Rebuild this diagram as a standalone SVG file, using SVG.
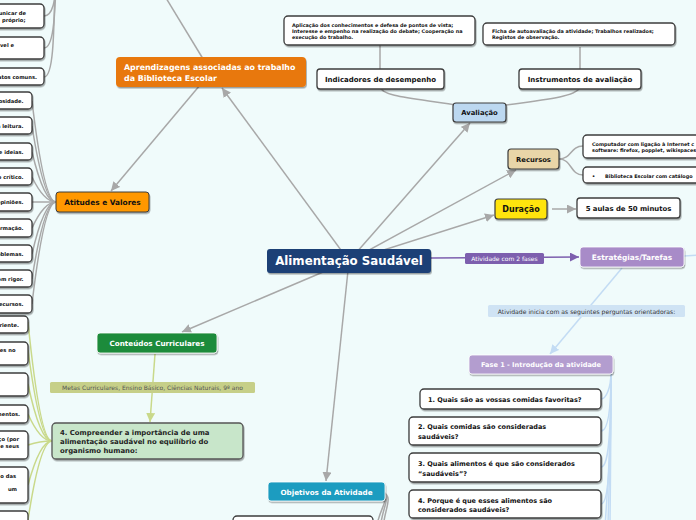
<svg xmlns="http://www.w3.org/2000/svg" width="696" height="520" viewBox="0 0 696 520">
<defs>
<filter id="sh" x="-10%" y="-30%" width="130%" height="180%"><feDropShadow dx="0.8" dy="1.5" stdDeviation="0.7" flood-color="#000" flood-opacity="0.35"/></filter>
<marker id="ag" viewBox="0 0 10 10" refX="10" refY="5" markerWidth="9" markerHeight="9" markerUnits="userSpaceOnUse" orient="auto"><path d="M0,0 L10,5 L0,10 z" fill="#a8a8a8"/></marker>
<marker id="agr" viewBox="0 0 10 10" refX="10" refY="5" markerWidth="9" markerHeight="9" markerUnits="userSpaceOnUse" orient="auto"><path d="M0,0 L10,5 L0,10 z" fill="#c9d98a"/></marker>
<marker id="abl" viewBox="0 0 10 10" refX="10" refY="5" markerWidth="9" markerHeight="9" markerUnits="userSpaceOnUse" orient="auto"><path d="M0,0 L10,5 L0,10 z" fill="#c3dcf4"/></marker>
<marker id="apu" viewBox="0 0 10 10" refX="10" refY="5" markerWidth="9" markerHeight="9" markerUnits="userSpaceOnUse" orient="auto"><path d="M0,0 L10,5 L0,10 z" fill="#7d5fae"/></marker>
</defs>
<style>
text{font-family:"DejaVu Sans",Verdana,sans-serif}
.b{font-weight:bold}
.m{text-anchor:middle}
.e{text-anchor:end}
.w{fill:#fff;stroke:#3c3c3c;stroke-width:1.3}
.cg{fill:none;stroke:#a8a8a8;stroke-width:1.5}
.cgr{fill:none;stroke:#c9d98a;stroke-width:1.5}
.cbl{fill:none;stroke:#c3dcf4;stroke-width:1.5}
.cpu{fill:none;stroke:#7d5fae;stroke-width:1.5}
.sm{font-size:5.2px;font-weight:bold;fill:#111}
.tx{font-size:4.9px;font-weight:bold;fill:#111}
</style>
<rect width="696" height="520" fill="#f0fbfb"/>

<g id="connectors">
<!-- from main -->
<line class="cg" x1="349" y1="261" x2="222" y2="88" marker-end="url(#ag)"/>
<line class="cg" x1="349" y1="261" x2="470" y2="123" marker-end="url(#ag)"/>
<line class="cg" x1="349" y1="261" x2="516" y2="170" marker-end="url(#ag)"/>
<line class="cg" x1="349" y1="261" x2="494" y2="215" marker-end="url(#ag)"/>
<line class="cg" x1="349" y1="261" x2="182" y2="332" marker-end="url(#ag)"/>
<line class="cg" x1="349" y1="261" x2="326" y2="481" marker-end="url(#ag)"/>
<line class="cpu" x1="431" y1="258" x2="579" y2="257" marker-end="url(#apu)"/>
<!-- Aprendizagens -->
<line class="cg" x1="211" y1="72" x2="111" y2="191" marker-end="url(#ag)"/>
<line class="cg" x1="211" y1="72" x2="149" y2="-30"/>
<!-- top-left group -->
<path class="cg" d="M44,16 C53,16 55,0 57,-20"/>
<path class="cg" d="M44,48 C53,48 55,20 56,-20"/>
<path class="cg" d="M44,77 C53,77 54,40 55,-20"/>
<!-- Atitudes children -->
<path class="cg" d="M56,202 Q44,202 32,101"/>
<path class="cg" d="M56,202 Q44,202 32,126"/>
<path class="cg" d="M56,202 Q44,202 32,152"/>
<path class="cg" d="M56,202 Q44,202 32,177"/>
<path class="cg" d="M56,202 L32,202"/>
<path class="cg" d="M56,202 Q44,202 32,228"/>
<path class="cg" d="M56,202 Q44,202 32,254"/>
<path class="cg" d="M56,202 Q44,202 32,279"/>
<path class="cg" d="M56,202 Q44,202 32,304"/>
<!-- Avaliação -->
<path class="cg" d="M380,45 L380,86 C380,98 425,99 462,106"/>
<path class="cg" d="M580,47 L580,86 C580,97 540,100 500,106"/>
<!-- Recursos -->
<path class="cg" d="M559,159 C572,159 570,146 583,146"/>
<path class="cg" d="M559,159 C572,159 570,175 583,175"/>
<!-- Duração -->
<line class="cg" x1="552" y1="209" x2="576" y2="209" marker-end="url(#ag)"/>
<!-- Conteúdos -->
<line class="cgr" x1="155" y1="354" x2="150" y2="422" marker-end="url(#agr)"/>
<!-- node 4 children -->
<path class="cgr" d="M52,441 Q40,441 28,322"/>
<path class="cgr" d="M52,441 Q40,441 28,350"/>
<path class="cgr" d="M52,441 Q40,441 28,384"/>
<path class="cgr" d="M52,441 Q40,441 28,414"/>
<path class="cgr" d="M52,441 Q40,441 28,445"/>
<path class="cgr" d="M52,441 Q40,441 28,485"/>
<path class="cgr" d="M52,441 Q40,441 28,520"/>
<!-- Estratégias -->
<line class="cbl" x1="684" y1="256" x2="700" y2="255"/>
<line class="cbl" x1="622" y1="268" x2="550" y2="354" marker-end="url(#abl)"/>
<!-- Fase 1 children -->
<path class="cbl" d="M611,372 C611,388 606,399 601,399"/>
<path class="cbl" d="M611,372 C611,420 606,431 601,431"/>
<path class="cbl" d="M611,372 C611,455 606,467 601,467"/>
<path class="cbl" d="M611,372 C611,492 606,504 601,504"/>
<path class="cbl" d="M611,372 C611,470 606,500 605,530"/>
<path class="cbl" d="M611,372 C611,470 608,500 608,530"/>
<path class="cbl" d="M611,372 C611,470 610,500 610,530"/>
<!-- Objetivos -->
<path class="cg" d="M383,492 C392,497 382,506 380,530"/>
<path class="cg" d="M383,492 C394,498 384,508 383,530"/>
<path class="cg" d="M383,494 C390,500 379,508 376,530"/>
</g>

<!-- labels on connectors -->
<g id="label-fases"><rect x="465" y="253" width="79" height="11" rx="1.5" fill="#7d5fae"/><text x="504.5" y="261.3" class="m" font-size="6" fill="#fff">Atividade com 2 fases</text></g>
<g id="label-perguntas"><rect x="488" y="305" width="197" height="12" rx="1.5" fill="#cfe3f4"/><text x="586.5" y="313.5" class="m" font-size="6.1" fill="#333">Atividade inicia com as seguintes perguntas orientadoras:</text></g>
<g id="label-metas"><rect x="50" y="382" width="205" height="11" rx="1.5" fill="#c6cf88"/><text x="152.5" y="390.3" class="m" font-size="6" fill="#555">Metas Curriculares, Ensino Básico, Ciências Naturais, 9º ano</text></g>

<g id="main"><rect x="267" y="249" width="164" height="24" rx="3" fill="#1c4076" filter="url(#sh)"/><text x="349" y="265.3" class="m b" font-size="11.8" fill="#fff">Alimentação Saudável</text></g>

<g id="aprendizagens"><rect x="116" y="57" width="190" height="30" rx="4" fill="#e8780f" filter="url(#sh)"/><text x="124" y="70" class="b" font-size="7.9" fill="#fff">Aprendizagens associadas ao trabalho</text><text x="124" y="81" class="b" font-size="7.9" fill="#fff">da Biblioteca Escolar</text></g>

<g id="atitudes"><rect x="56" y="192" width="93" height="20" rx="3" fill="#ff9800" stroke="#3c3c3c" stroke-width="1" filter="url(#sh)"/><text x="102.5" y="204.7" class="m b" font-size="7.4" fill="#111">Atitudes e Valores</text></g>

<g id="conteudos"><rect x="97" y="333" width="120" height="20" rx="3" fill="#1e8b3a" stroke="#fff" stroke-width="0.8" filter="url(#sh)"/><text x="157" y="345.6" class="m b" font-size="7.2" fill="#fff">Conteúdos Curriculares</text></g>

<g id="meta4"><rect x="52" y="423" width="191" height="36" rx="4" fill="#c8e6ca" stroke="#555" stroke-width="1.3" filter="url(#sh)"/><text x="60" y="434.5" class="b" font-size="6.9" fill="#222">4. Compreender a importância de uma</text><text x="60" y="443.8" class="b" font-size="6.9" fill="#222">alimentação saudável no equilíbrio do</text><text x="60" y="453" class="b" font-size="6.9" fill="#222">organismo humano:</text></g>

<g id="avaliacao"><rect x="453" y="103" width="53" height="19" rx="3" fill="#bcd8f0" stroke="#3c3c3c" stroke-width="1.2" filter="url(#sh)"/><text x="479.5" y="115" class="m b" font-size="6.8" fill="#111">Avaliação</text></g>
<g id="indicadores"><rect x="317" y="69" width="127" height="20" rx="3" class="w" filter="url(#sh)"/><text x="380.5" y="81.5" class="m b" font-size="7" fill="#111">Indicadores de desempenho</text></g>
<g id="instrumentos"><rect x="519" y="69" width="122" height="20" rx="3" class="w" filter="url(#sh)"/><text x="580" y="81.5" class="m b" font-size="7" fill="#111">Instrumentos de avaliação</text></g>
<g id="aplicacao"><rect x="284" y="16" width="191" height="29" rx="4" class="w" filter="url(#sh)"/><text x="292" y="27" class="tx">Aplicação dos conhecimentos e defesa de pontos de vista;</text><text x="292" y="33" class="tx">Interesse e empenho na realização do debate; Cooperação na</text><text x="292" y="39" class="tx">execução do trabalho.</text></g>
<g id="ficha"><rect x="483" y="23" width="192" height="22" rx="4" class="w" filter="url(#sh)"/><text x="492" y="32.5" class="tx">Ficha de autoavaliação da atividade; Trabalhos realizados;</text><text x="492" y="39" class="tx">Registos de observação.</text></g>

<g id="recursos"><rect x="508" y="149" width="51" height="20" rx="3" fill="#e9d5a8" stroke="#3c3c3c" stroke-width="1.2" filter="url(#sh)"/><text x="533.5" y="161.5" class="m b" font-size="6.8" fill="#111">Recursos</text></g>
<g id="computador"><rect x="583" y="135" width="130" height="23" rx="4" class="w" filter="url(#sh)"/><text x="592" y="146" class="tx">Computador com ligação à Internet c</text><text x="592" y="151.8" class="tx">software: firefox, popplet, wikispaces</text></g>
<g id="biblioteca"><rect x="583" y="167" width="130" height="16" rx="4" class="w" filter="url(#sh)"/><text x="592" y="177.5" class="tx">•</text><text x="605" y="177.5" class="tx">Biblioteca Escolar com catálogo</text></g>

<g id="duracao"><rect x="495" y="199" width="52" height="20" rx="3" fill="#ffe40a" stroke="#3c3c3c" stroke-width="1.2" filter="url(#sh)"/><text x="521" y="212" class="m b" font-size="8" fill="#111">Duração</text></g>
<g id="aulas"><rect x="577" y="198" width="103" height="20" rx="3" class="w" filter="url(#sh)"/><text x="628.5" y="211" class="m b" font-size="6.9" fill="#111">5 aulas de 50 minutos</text></g>

<g id="estrategias"><rect x="580" y="247" width="104" height="20" rx="3" fill="#a88bc8" stroke="#fff" stroke-width="0.8" filter="url(#sh)"/><text x="632" y="260" class="m b" font-size="7.4" fill="#fff">Estratégias/Tarefas</text></g>
<g id="fase1"><rect x="469" y="355" width="144" height="19" rx="3" fill="#b39dcf" stroke="#fff" stroke-width="0.8" filter="url(#sh)"/><text x="541" y="367" class="m b" font-size="6.6" fill="#fff">Fase 1 - Introdução da atividade</text></g>
<g id="q1"><rect x="420" y="389" width="181" height="20" rx="4" class="w" filter="url(#sh)"/><text x="428" y="402" class="b" font-size="6.5" fill="#111">1. Quais são as vossas comidas favoritas?</text></g>
<g id="q2"><rect x="409" y="417" width="192" height="28" rx="4" class="w" filter="url(#sh)"/><text x="418" y="429" class="b" font-size="6.5" fill="#111">2. Quais comidas são consideradas</text><text x="418" y="438.5" class="b" font-size="6.5" fill="#111">saudáveis?</text></g>
<g id="q3"><rect x="409" y="453" width="192" height="29" rx="4" class="w" filter="url(#sh)"/><text x="418" y="466" class="b" font-size="6.5" fill="#111">3. Quais alimentos é que são considerados</text><text x="418" y="475.5" class="b" font-size="6.5" fill="#111">“saudáveis”?</text></g>
<g id="q4"><rect x="409" y="490" width="192" height="28" rx="4" class="w" filter="url(#sh)"/><text x="418" y="503" class="b" font-size="6.5" fill="#111">4. Porque é que esses alimentos são</text><text x="418" y="512" class="b" font-size="6.5" fill="#111">considerados saudáveis?</text></g>

<g id="objetivos"><rect x="268" y="482" width="117" height="19" rx="3" fill="#1b9cc0" stroke="#fff" stroke-width="0.8" filter="url(#sh)"/><text x="326.5" y="494.5" class="m b" font-size="7.2" fill="#fff">Objetivos da Atividade</text></g>
<g id="obj-child"><rect x="233" y="516" width="140" height="20" rx="4" class="w"/></g>

<!-- left column: top group -->
<g id="a1"><rect x="-100" y="4" width="144" height="24" rx="4" class="w" filter="url(#sh)"/><text x="26" y="14.5" class="sm e">unicar de</text><text x="25.5" y="22" class="sm e">próprio;</text></g>
<g id="a2"><rect x="-100" y="37" width="144" height="22" rx="4" class="w" filter="url(#sh)"/><text x="14" y="47" class="sm e">vel e</text></g>
<g id="a3"><rect x="-100" y="68" width="144" height="17" rx="4" class="w" filter="url(#sh)"/><text x="37" y="78.5" class="sm e">atos comuns.</text></g>
<!-- Atitudes children -->
<g id="b1"><rect x="-100" y="92" width="132" height="17" rx="4" class="w" filter="url(#sh)"/><text x="23.5" y="102.5" class="sm e">osidade.</text></g>
<g id="b2"><rect x="-100" y="117" width="132" height="17" rx="4" class="w" filter="url(#sh)"/><text x="23.5" y="128" class="sm e">a leitura.</text></g>
<g id="b3"><rect x="-100" y="143" width="132" height="17" rx="4" class="w" filter="url(#sh)"/><text x="23.5" y="153.5" class="sm e">e ideias.</text></g>
<g id="b4"><rect x="-100" y="168" width="132" height="17" rx="4" class="w" filter="url(#sh)"/><text x="23.5" y="178.5" class="sm e">o crítico.</text></g>
<g id="b5"><rect x="-100" y="193" width="132" height="18" rx="4" class="w" filter="url(#sh)"/><text x="23.5" y="204" class="sm e">opiniões.</text></g>
<g id="b6"><rect x="-100" y="219" width="132" height="18" rx="4" class="w" filter="url(#sh)"/><text x="23.5" y="230" class="sm e">rmação.</text></g>
<g id="b7"><rect x="-100" y="245" width="132" height="17" rx="4" class="w" filter="url(#sh)"/><text x="23.5" y="255.5" class="sm e">oblemas.</text></g>
<g id="b8"><rect x="-100" y="270" width="132" height="17" rx="4" class="w" filter="url(#sh)"/><text x="23.5" y="280.5" class="sm e">om rigor.</text></g>
<g id="b9"><rect x="-100" y="295" width="132" height="18" rx="4" class="w" filter="url(#sh)"/><text x="23.5" y="306" class="sm e">ecursos.</text></g>
<!-- node 4 children -->
<g id="c1"><rect x="-100" y="316" width="128" height="17" rx="4" class="w" filter="url(#sh)"/><text x="19" y="326.5" class="sm e">riente.</text></g>
<g id="c2"><rect x="-100" y="342" width="128" height="23" rx="4" class="w" filter="url(#sh)"/><text x="15.5" y="352" class="sm e">es no</text></g>
<g id="c3"><rect x="-100" y="373" width="128" height="23" rx="4" class="w" filter="url(#sh)"/></g>
<g id="c4"><rect x="-100" y="405" width="128" height="18" rx="4" class="w" filter="url(#sh)"/><text x="20" y="415.5" class="sm e">mentos.</text></g>
<g id="c5"><rect x="-100" y="431" width="128" height="28" rx="4" class="w" filter="url(#sh)"/><text x="19" y="440.5" class="sm e">ço (por</text><text x="19" y="447.5" class="sm e">e seus</text></g>
<g id="c6"><rect x="-100" y="467" width="128" height="36" rx="4" class="w" filter="url(#sh)"/><text x="16" y="478" class="sm e">o das</text><text x="17" y="490.5" class="sm e">um</text></g>
<g id="c7"><rect x="-100" y="511" width="128" height="30" rx="4" class="w"/></g>
</svg>
